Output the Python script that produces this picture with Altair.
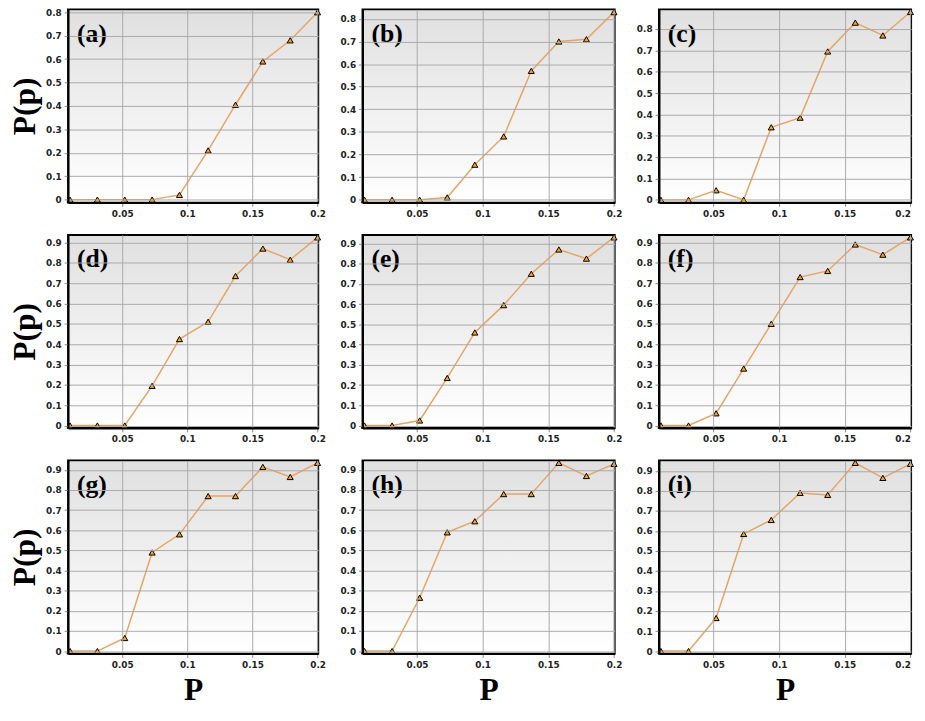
import altair as alt
import pandas as pd

# Shared x values (probability p)
p_values = [0.01, 0.031, 0.052, 0.073, 0.094, 0.116, 0.137, 0.158, 0.179, 0.2]
x_ticks = [0.05, 0.1, 0.15, 0.2]

# P(p) series for each panel
pa = [0, 0, 0, 0, 0.02, 0.21, 0.405, 0.59, 0.68, 0.80]
pb = [0, 0, 0, 0.01, 0.155, 0.28, 0.57, 0.70, 0.71, 0.83]
pc = [0, 0, 0.045, 0, 0.34, 0.385, 0.695, 0.83, 0.77, 0.88]
pd_ = [0, 0, 0, 0.195, 0.425, 0.51, 0.735, 0.87, 0.815, 0.925]
pe = [0, 0, 0.025, 0.235, 0.46, 0.595, 0.75, 0.87, 0.825, 0.93]
pf = [0, 0, 0.06, 0.28, 0.50, 0.73, 0.76, 0.89, 0.84, 0.925]
pg = [0, 0, 0.065, 0.49, 0.58, 0.77, 0.77, 0.915, 0.865, 0.935]
ph = [0, 0, 0.265, 0.59, 0.645, 0.78, 0.78, 0.935, 0.87, 0.93]
pi = [0, 0, 0.165, 0.585, 0.655, 0.79, 0.78, 0.94, 0.865, 0.935]

labels = ["(a)", "(b)", "(c)", "(d)", "(e)", "(f)", "(g)", "(h)", "(i)"]
series = [pa, pb, pc, pd_, pe, pf, pg, ph, pi]

WIDTHS = [254, 256, 256]
H = 196
LINE = "#e6a466"
FILL = "#f4a21e"

bg = alt.Gradient(
    gradient="linear",
    stops=[alt.GradientStop(color="#e0e0e0", offset=0),
           alt.GradientStop(color="#ffffff", offset=1)],
    x1=0, x2=0, y1=0, y2=1,
)

one = pd.DataFrame({"k": [0]})


def panel(idx):
    vals = series[idx]
    row, col = divmod(idx, 3)
    W = WIDTHS[col]
    df = pd.DataFrame({"p": p_values, "P": vals})
    ymax = max(vals) + 0.012
    yt = [i / 10 for i in range(int(max(vals) * 10 + 1e-9) + 1)]

    xaxis_kw = dict(values=x_ticks, format="~g", grid=True, gridColor="#aaaaaa",
                    labelFont="DejaVu Sans", labelFontWeight="bold", labelFontSize=9,
                    labelColor="#222222", tickSize=4, tickColor="#888888",
                    labelPadding=3, domain=True, domainColor="black", domainWidth=2,
                    labelFlush=(col == 2), zindex=1, tickCount=20)
    if row == 2:
        xaxis_kw.update(title="P", titleFont="Liberation Serif", titleFontSize=32,
                        titleFontWeight="bold", titleColor="black", titlePadding=6)
    else:
        xaxis_kw.update(title=None)

    yaxis_kw = dict(values=yt, format=".1~f", grid=True, gridColor="#aaaaaa",
                    labelFont="DejaVu Sans", labelFontWeight="bold", labelFontSize=9,
                    labelColor="#222222", tickSize=4, tickColor="#888888",
                    labelPadding=3, domain=True, domainColor="black", domainWidth=2,
                    zindex=1, tickCount=20, labelOverlap=False)
    if col == 0:
        yaxis_kw.update(title="P(p)", titleFont="Liberation Serif", titleFontSize=32,
                        titleFontWeight="bold", titleColor="black", titlePadding=4)
    else:
        yaxis_kw.update(title=None)

    x = alt.X("p:Q", scale=alt.Scale(domain=[0.0085, 0.2005], nice=False, zero=False),
              axis=alt.Axis(**xaxis_kw))
    y = alt.Y("P:Q", scale=alt.Scale(domain=[-0.012, ymax], nice=False, zero=False),
              axis=alt.Axis(**yaxis_kw))

    back = alt.Chart(one).mark_rect(fill=bg).encode(
        x=alt.value(1), x2=alt.value(W - 1), y=alt.value(1), y2=alt.value(H - 1))
    line = alt.Chart(df).mark_line(color=LINE, strokeWidth=1.5).encode(x=x, y=y)
    pts = alt.Chart(df).mark_point(shape="triangle-up", filled=True, fill=FILL,
                                   stroke="black", strokeWidth=1, size=38,
                                   opacity=1).encode(x="p:Q", y="P:Q")
    txt = alt.Chart(one).mark_text(text=labels[idx], font="Liberation Serif",
                                   fontWeight="bold", fontSize=26, align="left",
                                   baseline="middle", color="black").encode(
        x=alt.value(9), y=alt.value(25))
    return alt.layer(back, line, pts, txt).properties(width=W, height=H)


rows = [alt.hconcat(*[panel(r * 3 + c) for c in range(3)], spacing=12) for r in range(3)]
chart = alt.vconcat(*rows, spacing=12).properties(
    padding={"top": -8, "bottom": 0, "left": 0, "right": 0}
).configure_view(stroke="black", strokeWidth=2)

chart.save("out.html", embed_options={"renderer": "svg", "actions": False})
